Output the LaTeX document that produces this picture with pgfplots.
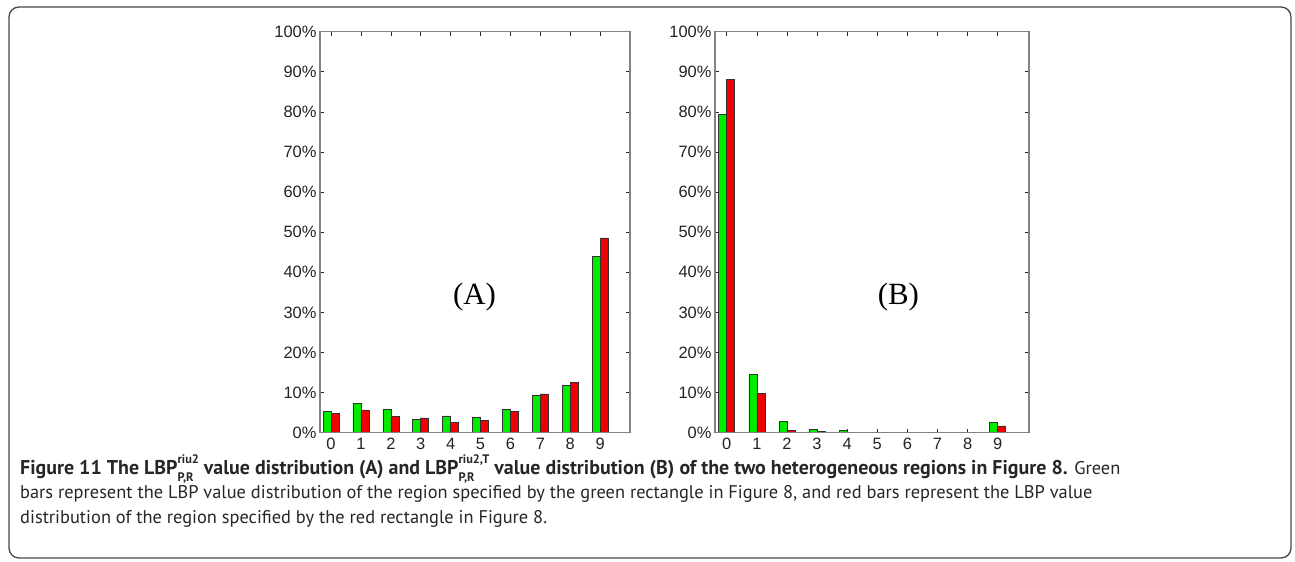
\documentclass[border=0pt]{standalone}
\usepackage{fontspec}
\setmainfont{Liberation Sans}
\newfontfamily\capfont{PT Sans}
\newfontfamily\seriffont{Liberation Serif}
\usepackage{pgfplots}
\pgfplotsset{compat=1.18}

\definecolor{mgreen}{RGB}{0,235,0}
\definecolor{mred}{RGB}{240,0,0}
\definecolor{spine}{RGB}{130,130,130}
\definecolor{lbl}{RGB}{35,35,35}
\definecolor{boxc}{RGB}{70,70,70}

\newcommand\supsub[2]{\rlap{\raisebox{-0.33em}{\fontsize{12.4}{12}\selectfont #2}}\raisebox{0.58em}{\fontsize{12.4}{12}\selectfont #1}}

\pgfplotsset{mystyle/.style={
  scale only axis, height=401bp,
  ymin=0, ymax=100, ytick={0,10,20,30,40,50,60,70,80,90,100},
  yticklabels={0\%,10\%,20\%,30\%,40\%,50\%,60\%,70\%,80\%,90\%,100\%},
  xtick={0,1,2,3,4,5,6,7,8,9}, xticklabels={0,1,2,3,4,5,6,7,8,9},
  ybar=0pt, bar width=8bp,
  axis line style={spine, line width=1.2bp},
  tick style={black!85, line width=0.7bp},
  major tick length=4bp,
  tick align=inside, xtick pos=both, ytick pos=both,
  tick label style={font=\fontsize{16.5}{16.5}\selectfont, text=lbl},
  xticklabel style={yshift=-2bp},
  axis on top,
  every axis plot/.append style={draw=black!80, line width=0.5bp},
}}

\begin{document}
\begin{tikzpicture}
\path[use as bounding box] (0,0) rectangle (1295bp,562bp);
\draw[rounded corners=10bp, line width=1.3bp, boxc] (9bp,4bp) rectangle (1291bp,555bp);

\begin{axis}[mystyle, width=310bp, at={(320bp,129.3bp)}, anchor=south west,
  xmin=-0.37, xmax=10.0]
\addplot[fill=mgreen] coordinates {(0,5.25) (1,7.3) (2,5.8) (3,3.25) (4,4.2) (5,3.8) (6,5.8) (7,9.3) (8,11.75) (9,44.0)};
\addplot[fill=mred] coordinates {(0,4.8) (1,5.7) (2,4.0) (3,3.7) (4,2.5) (5,3.1) (6,5.25) (7,9.7) (8,12.5) (9,48.6)};
\node[font=\seriffont\fontsize{31}{31}\selectfont] at (axis cs:4.8,33.8) {(A)};
\end{axis}

\begin{axis}[mystyle, width=314bp, at={(715bp,129.3bp)}, anchor=south west,
  xmin=-0.39, xmax=10.04]
\addplot[fill=mgreen] coordinates {(0,79.4) (1,14.6) (2,2.75) (3,0.85) (4,0.6) (5,0) (6,0) (7,0) (8,0) (9,2.5)};
\addplot[fill=mred] coordinates {(0,88.1) (1,9.85) (2,0.5) (3,0.25) (4,0.05) (5,0) (6,0) (7,0) (8,0) (9,1.7)};
\node[font=\seriffont\fontsize{31}{31}\selectfont] at (axis cs:5.7,33.8) {(B)};
\end{axis}

\begin{scope}[every node/.style={anchor=base west, inner sep=0pt, font=\capfont\fontsize{18.45}{20}\selectfont, text=black!85}]
\node at (20bp,87bp) {{\fontsize{20}{20}\selectfont\bfseries Figure 11 The LBP\supsub{riu2}{P,R} value distribution (A) and LBP\supsub{riu2,T}{P,R} value distribution (B) of the two heterogeneous regions in Figure 8.} Green};
\node at (20bp,63bp) {bars represent the LBP value distribution of the region specified by the green rectangle in Figure 8, and red bars represent the LBP value};
\node at (20bp,39bp) {distribution of the region specified by the red rectangle in Figure 8.};
\end{scope}
\end{tikzpicture}
\end{document}
